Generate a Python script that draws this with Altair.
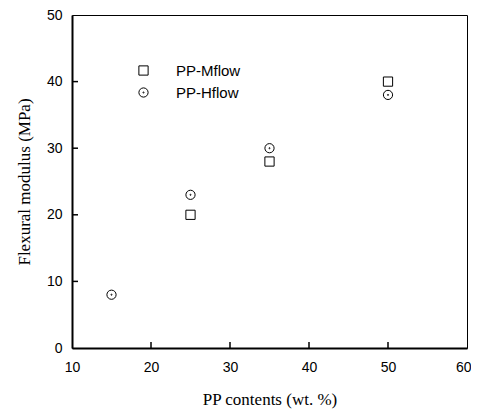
import altair as alt
import pandas as pd

series = ["PP-Mflow", "PP-Hflow"]
m_x = [25, 35, 50]
m_y = [20, 28, 40]
h_x = [15, 25, 35, 50]
h_y = [8, 23, 30, 38]
x_tick_values = [10, 20, 30, 40, 50, 60]
y_tick_values = [0, 10, 20, 30, 40, 50]
x_inner_ticks = [20, 30, 40, 50]
y_inner_ticks = [10, 20, 30, 40]

W, H = 395, 333

df = pd.DataFrame({
    "x": m_x + h_x,
    "y": m_y + h_y,
    "s": [series[0]] * len(m_x) + [series[1]] * len(h_x),
})
xt = pd.DataFrame({"x": x_inner_ticks})
yt = pd.DataFrame({"y": y_inner_ticks})

circ_dot = ("M -1 0 A 1 1 0 1 0 1 0 A 1 1 0 1 0 -1 0 Z "
            "M -0.12 0 A 0.12 0.12 0 1 0 0.12 0 A 0.12 0.12 0 1 0 -0.12 0 Z")

xs = alt.Scale(domain=[10, 60], nice=False, zero=False)
ys = alt.Scale(domain=[0, 50], nice=False)

x_axis = alt.Axis(title="PP contents (wt. %)", values=x_tick_values, ticks=False, grid=False,
                  labelFlush=False, labelOverlap=False, labelPadding=12, titlePadding=17,
                  labelAlign={"condition": {"test": "datum.value == 60", "value": "right"}, "value": "center"},
                  labelOffset={"condition": {"test": "datum.value == 60", "value": 4}, "value": 0})
y_axis = alt.Axis(title="Flexural modulus (MPa)", values=y_tick_values, ticks=False, grid=False,
                  labelFlush=False, labelOverlap=False, labelPadding=10, titlePadding=13)

points = alt.Chart(df).mark_point(filled=False, color="black", strokeWidth=1, size=85, opacity=1).encode(
    x=alt.X("x:Q", scale=xs, axis=x_axis),
    y=alt.Y("y:Q", scale=ys, axis=y_axis),
    shape=alt.Shape("s:N", scale=alt.Scale(domain=series, range=["square", circ_dot]),
                    legend=alt.Legend(title=None, orient="none", legendX=64, legendY=48,
                                      symbolSize=85, symbolStrokeColor="black", symbolStrokeWidth=1,
                                      symbolFillColor="transparent",
                                      labelFont="Liberation Sans", labelFontSize=15, labelColor="black",
                                      labelOffset=25, rowPadding=6, padding=0)),
)

xticks = alt.Chart(xt).mark_rule(color="black", strokeWidth=1.5).encode(
    x=alt.X("x:Q", scale=xs), y=alt.value(H), y2=alt.value(H - 6))
yticks = alt.Chart(yt).mark_rule(color="black", strokeWidth=1.5).encode(
    y=alt.Y("y:Q", scale=ys), x=alt.value(0), x2=alt.value(6))

chart = alt.layer(points, xticks, yticks).properties(
    width=W, height=H,
    background="white",
    autosize=alt.AutoSizeParams(type="none"),
    padding={"left": 64, "top": 7, "right": 4, "bottom": 62},
).configure_view(stroke="black", strokeWidth=1).configure_axis(
    domainColor="black", domainWidth=2, grid=False,
    labelFont="Liberation Sans", labelFontSize=14, labelColor="black",
    titleFont="Liberation Serif", titleFontSize=17, titleFontWeight="normal", titleColor="black",
)

chart.save("out.html", embed_options={"renderer": "svg", "actions": False})
